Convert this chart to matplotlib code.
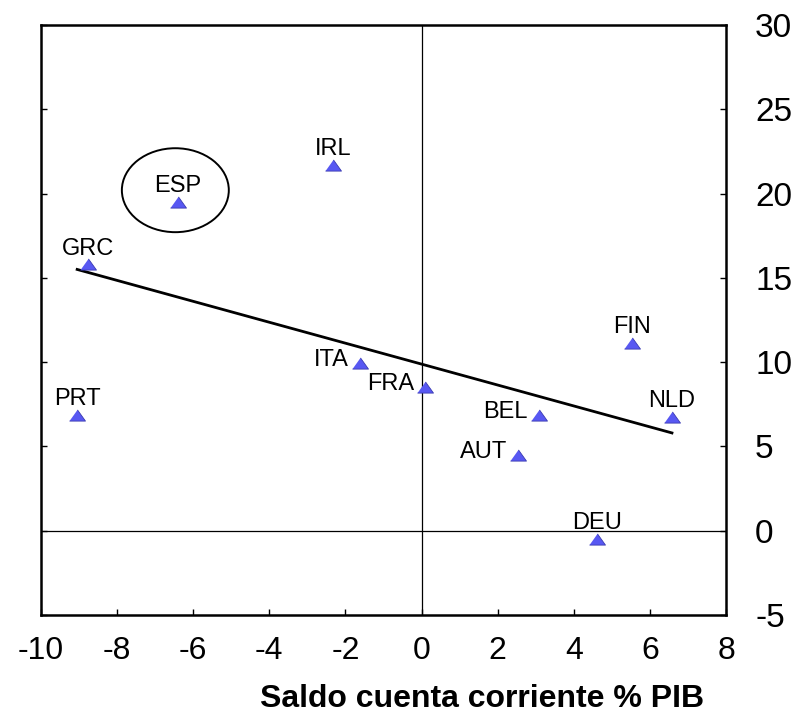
import matplotlib
matplotlib.use("Agg")
import matplotlib.pyplot as plt
from matplotlib.patches import Ellipse

plt.rcParams["axes.unicode_minus"] = False
plt.rcParams["font.family"] = ["Liberation Sans", "DejaVu Sans"]

# datos
paises = ["ESP", "IRL", "GRC", "PRT", "ITA", "FRA", "BEL", "AUT", "FIN", "NLD", "DEU"]
saldo_cc = [-6.40, -2.33, -8.77, -9.05, -1.62, 0.09, 3.08, 2.53, 5.53, 6.58, 4.61]
eje_y = [19.5, 21.7, 15.8, 6.87, 9.95, 8.53, 6.87, 4.5, 11.14, 6.75, -0.49]

# recta de tendencia (extremos leidos)
tend_x = [-9.05, 6.58]
tend_y = [15.5, 5.8]

x_ticks = [-10, -8, -6, -4, -2, 0, 2, 4, 6, 8]
y_ticks = [-5, 0, 5, 10, 15, 20, 25, 30]

xlabel = "Saldo cuenta corriente % PIB"

# paises con la etiqueta a la izquierda del punto
a_la_izquierda = {"ITA", "FRA", "BEL", "AUT"}

W, H = 805, 713
fig = plt.figure(figsize=(W / 100, H / 100), dpi=100)
ax = fig.add_axes([41 / W, 98 / H, 685 / W, 590 / H])

ax.axhline(0, color="black", lw=0.9, zorder=1)
ax.axvline(0, color="black", lw=0.9, zorder=1)

ax.plot(tend_x, tend_y, color="black", lw=2.0, zorder=2)

tri = [(-1, -0.7), (1, -0.7), (0, 0.7)]
ax.scatter(saldo_cc, eje_y, marker=tri, s=11.5 ** 2, facecolor="#5858f2",
           edgecolor="#3a3ab0", linewidth=0.6, zorder=3)

for p, x, y in zip(paises, saldo_cc, eje_y):
    if p in a_la_izquierda:
        ax.annotate(p, (x, y), xytext=(-8, 2), textcoords="offset points",
                    ha="right", va="center", fontsize=17, zorder=4)
    else:
        ax.annotate(p, (x, y), xytext=(0, 7), textcoords="offset points",
                    ha="center", va="baseline", fontsize=17, zorder=4)

# elipse que resalta ESP
i = paises.index("ESP")
ax.add_patch(Ellipse((saldo_cc[i] - 0.07, eje_y[i] + 0.7), width=2.81, height=4.98,
                     fill=False, edgecolor="black", lw=1.4, zorder=4))

ax.set_xlim(-10, 8)
ax.set_ylim(-5, 30)
ax.set_xticks(x_ticks)
ax.set_yticks(y_ticks)
ax.set_xticklabels([str(v) for v in x_ticks], fontsize=23)
ax.set_yticklabels([str(v) for v in y_ticks], fontsize=24)

ax.tick_params(axis="x", direction="in", length=4, width=1, pad=15, top=False)
ax.tick_params(axis="y", direction="in", length=4, width=1, pad=21,
               left=True, right=True, labelleft=False, labelright=True)

for s in ax.spines.values():
    s.set_linewidth(1.8)

ax.set_xlabel(xlabel, fontsize=23, fontweight="bold")
ax.xaxis.set_label_coords((482 - 41) / 685, (615 - 684) / 590)

fig.savefig("out.png", dpi=100)
